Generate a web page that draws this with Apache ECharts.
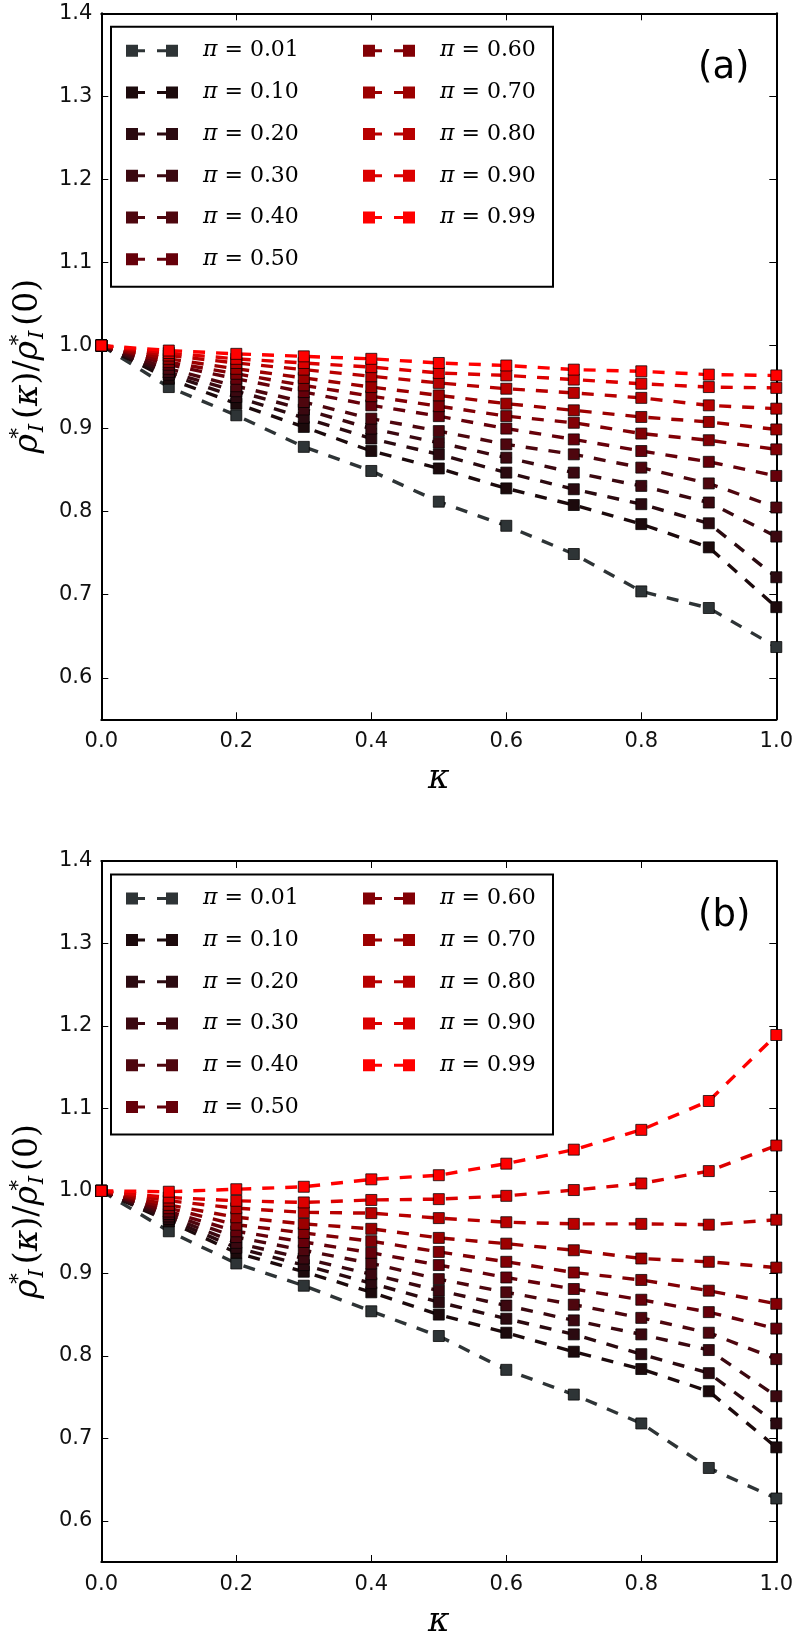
<!DOCTYPE html>
<html>
<head>
<meta charset="utf-8">
<script src="https://cdn.jsdelivr.net/npm/echarts@6/dist/echarts.min.js"></script>
<style>
html,body{margin:0;padding:0;background:#fff;}
#chart{width:796px;height:1640px;}
</style>
</head>
<body>
<div id="chart"></div>
<script>
// ---- data ----
const kappa = [0, 0.1, 0.2, 0.3, 0.4, 0.5, 0.6, 0.7, 0.8, 0.9, 1.0];
const piLabels = ['0.01','0.10','0.20','0.30','0.40','0.50','0.60','0.70','0.80','0.90','0.99'];
const colors = ['#2e3436','#1c0a0c','#2b0a10','#3b0810','#4e060e','#66000a','#820005','#9c0000','#b80000','#dc0000','#ff0000'];
const yTicks = [0.6, 0.7, 0.8, 0.9, 1.0, 1.1, 1.2, 1.3, 1.4];

// panel (a)
const a_p001 = [1.0, 0.950, 0.916, 0.878, 0.849, 0.812, 0.783, 0.749, 0.704, 0.684, 0.637];
const a_p010 = [1.0, 0.960, 0.930, 0.902, 0.873, 0.852, 0.828, 0.808, 0.785, 0.757, 0.685];
const a_p020 = [1.0, 0.965, 0.938, 0.913, 0.888, 0.869, 0.847, 0.827, 0.809, 0.786, 0.721];
const a_p030 = [1.0, 0.968, 0.945, 0.923, 0.900, 0.883, 0.865, 0.847, 0.831, 0.811, 0.770];
const a_p040 = [1.0, 0.972, 0.951, 0.932, 0.912, 0.897, 0.881, 0.869, 0.853, 0.834, 0.805];
const a_p050 = [1.0, 0.977, 0.960, 0.944, 0.928, 0.915, 0.900, 0.887, 0.873, 0.860, 0.843];
const a_p060 = [1.0, 0.980, 0.966, 0.952, 0.939, 0.927, 0.915, 0.907, 0.894, 0.886, 0.875];
const a_p070 = [1.0, 0.984, 0.972, 0.961, 0.950, 0.940, 0.930, 0.922, 0.914, 0.908, 0.899];
const a_p080 = [1.0, 0.988, 0.979, 0.971, 0.963, 0.955, 0.948, 0.943, 0.937, 0.928, 0.924];
const a_p090 = [1.0, 0.991, 0.984, 0.979, 0.974, 0.967, 0.964, 0.959, 0.954, 0.950, 0.949];
const a_p099 = [1.0, 0.994, 0.990, 0.987, 0.984, 0.979, 0.976, 0.971, 0.969, 0.965, 0.964];

// panel (b)
const b_p001 = [1.0, 0.951, 0.912, 0.885, 0.854, 0.824, 0.783, 0.753, 0.718, 0.664, 0.627];
const b_p010 = [1.0, 0.963, 0.925, 0.902, 0.877, 0.850, 0.828, 0.805, 0.784, 0.757, 0.689];
const b_p020 = [1.0, 0.966, 0.931, 0.910, 0.888, 0.865, 0.845, 0.826, 0.802, 0.779, 0.718];
const b_p030 = [1.0, 0.969, 0.937, 0.918, 0.899, 0.879, 0.861, 0.843, 0.826, 0.807, 0.751];
const b_p040 = [1.0, 0.972, 0.944, 0.928, 0.912, 0.893, 0.877, 0.862, 0.846, 0.828, 0.796];
const b_p050 = [1.0, 0.975, 0.951, 0.938, 0.925, 0.910, 0.895, 0.881, 0.868, 0.853, 0.833];
const b_p060 = [1.0, 0.979, 0.959, 0.949, 0.939, 0.926, 0.914, 0.901, 0.892, 0.879, 0.863];
const b_p070 = [1.0, 0.983, 0.968, 0.960, 0.954, 0.943, 0.936, 0.928, 0.918, 0.914, 0.907];
const b_p080 = [1.0, 0.988, 0.979, 0.974, 0.973, 0.967, 0.962, 0.960, 0.960, 0.959, 0.965];
const b_p090 = [1.0, 0.992, 0.988, 0.986, 0.989, 0.990, 0.994, 1.001, 1.009, 1.024, 1.055];
const b_p099 = [1.0, 0.999, 1.002, 1.005, 1.014, 1.019, 1.033, 1.050, 1.074, 1.109, 1.189];

const panelA = [a_p001,a_p010,a_p020,a_p030,a_p040,a_p050,a_p060,a_p070,a_p080,a_p090,a_p099];
const panelB = [b_p001,b_p010,b_p020,b_p030,b_p040,b_p050,b_p060,b_p070,b_p080,b_p090,b_p099];
const panelTags = ['(a)', '(b)'];

// ---- layout ----
const GRID_LEFT = 97, GRID_W = 681, GRID_H = 706;
const GRID_TOPS = [13.3, 861];
const FONT = 'DejaVu Sans';
const SERIF = 'DejaVu Serif';
const legendIcon = 'path://M0,0H12V12H0Z M12,4.5H19V7.5H12Z M31,4.5H40V7.5H31Z M40,0H52V12H40Z';

const grids = [], xAxes = [], yAxes = [], series = [], legends = [], titles = [], graphics = [];

const yName = '{r|ρ}{s|*}{i|I}{n|(}{r|κ}{n|)/}{r|ρ}{s|*}{i|I}{n|(0)}';
const yNameRich = {
  r: {fontFamily: SERIF, fontStyle: 'italic', fontSize: 33, color: '#000'},
  n: {fontFamily: SERIF, fontSize: 33, color: '#000'},
  s: {fontFamily: SERIF, fontSize: 21, verticalAlign: 'top', color: '#000', width: 0, padding: [0, 0, 0, 1]},
  i: {fontFamily: SERIF, fontStyle: 'italic', fontSize: 21, verticalAlign: 'bottom', color: '#000', padding: [0, 5, 0, 1]}
};

[panelA, panelB].forEach(function (panel, p) {
  const top = GRID_TOPS[p];
  grids.push({left: GRID_LEFT, top: top, width: GRID_W, height: GRID_H, show: false, containLabel: false});
  const baseX = {
    type: 'value', gridIndex: p, min: 0, max: 1, interval: 0.2,
    splitLine: {show: false},
    axisLine: {show: true, onZero: false, lineStyle: {color: '#000', width: 2}},
    axisTick: {show: true, inside: true, length: 7, lineStyle: {color: '#000', width: 1}}
  };
  xAxes.push(Object.assign({}, baseX, {
    position: 'bottom',
    axisLabel: {show: true, margin: 12, fontFamily: FONT, fontSize: 21, color: '#111',
      formatter: function (v) { return v.toFixed(1); }},
    name: 'κ', nameLocation: 'middle', nameGap: 44,
    nameTextStyle: {fontFamily: SERIF, fontStyle: 'italic', fontSize: 33, color: '#000'}
  }));
  xAxes.push(Object.assign({}, baseX, {position: 'top', axisLabel: {show: false}}));
  const baseY = {
    type: 'value', gridIndex: p, min: 0.55, max: 1.4,
    splitLine: {show: false},
    axisLine: {show: true, onZero: false, lineStyle: {color: '#000', width: 2}},
    axisTick: {show: true, inside: true, length: 7, customValues: yTicks, lineStyle: {color: '#000', width: 1}}
  };
  yAxes.push(Object.assign({}, baseY, {
    position: 'left',
    axisLabel: {show: true, margin: 9, fontFamily: FONT, fontSize: 21, color: '#111', customValues: yTicks,
      formatter: function (v) { return v.toFixed(1); }},
    name: yName, nameLocation: 'middle', nameRotate: 90, nameGap: 46,
    nameTextStyle: {rich: yNameRich, lineHeight: 40}
  }));
  yAxes.push(Object.assign({}, baseY, {position: 'right', axisLabel: {show: false, customValues: yTicks}}));

  panel.forEach(function (vals, i) {
    series.push({
      type: 'line', name: piLabels[i] + (p ? ' ' : ''), xAxisIndex: 2 * p, yAxisIndex: 2 * p,
      data: kappa.map(function (k, j) { return [k, vals[j]]; }),
      symbol: 'rect', symbolSize: 11, showSymbol: true,
      itemStyle: {color: colors[i], borderColor: 'rgba(0,0,0,0.75)', borderWidth: 1},
      lineStyle: {color: colors[i], width: 3.4, type: [12, 11], cap: 'butt'},
      emphasis: {disabled: true}, animation: false, clip: false
    });
  });

  const suffix = p ? ' ' : '';
  const legendBase = {
    orient: 'vertical', padding: 0, itemWidth: 52, itemHeight: 12, itemGap: 17.7,
    selectedMode: false, icon: legendIcon,
    itemStyle: {borderWidth: 0},
    textStyle: {fontFamily: SERIF, fontSize: 22, color: '#000', lineHeight: 24, padding: [0, 0, 0, 20],
      rich: {p: {fontFamily: SERIF, fontStyle: 'italic', fontSize: 22, color: '#000', lineHeight: 24}}},
    formatter: function (name) { return '{p|π} = ' + name.trim(); }
  };
  legends.push(Object.assign({}, legendBase, {left: 126, top: top + 25.4,
    data: piLabels.slice(0, 6).map(function (s) { return s + suffix; })}));
  legends.push(Object.assign({}, legendBase, {left: 363, top: top + 25.4,
    data: piLabels.slice(6).map(function (s) { return s + suffix; })}));

  titles.push({text: panelTags[p], left: 698, top: top + 37,
    textStyle: {fontFamily: FONT, fontSize: 37, fontWeight: 'normal', color: '#000'}, padding: 0});

  graphics.push({type: 'rect', shape: {x: 111, y: top + 13.4, width: 442, height: 260},
    style: {fill: 'none', stroke: '#000', lineWidth: 2}, z: 10, silent: true});
});

const chart = echarts.init(document.getElementById('chart'), null, {renderer: 'canvas'});
chart.setOption({
  animation: false,
  backgroundColor: '#fff',
  title: titles,
  grid: grids,
  xAxis: xAxes,
  yAxis: yAxes,
  legend: legends,
  graphic: graphics,
  series: series
});
</script>
</body>
</html>
